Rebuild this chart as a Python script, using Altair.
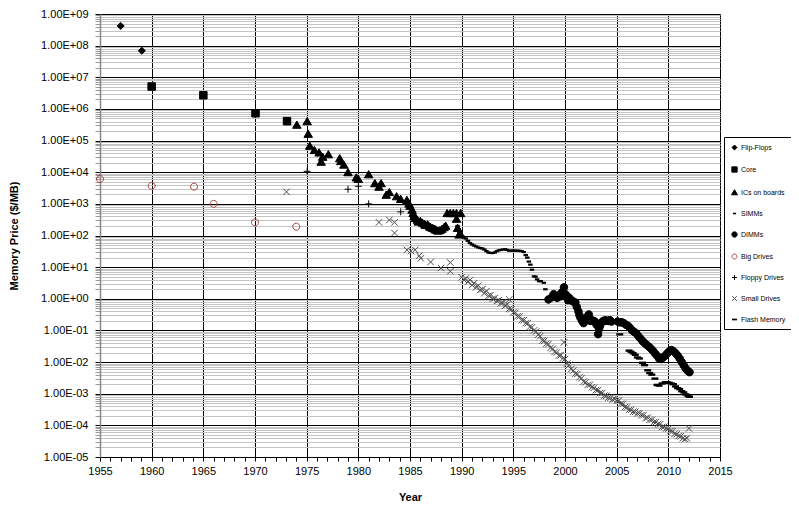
import altair as alt
import pandas as pd

SERIES = ["Flip-Flops", "Core", "ICs on boards", "SIMMs", "DIMMs",
          "Big Drives", "Floppy Drives", "Small Drives", "Flash Memory"]

flip_years = [1957.0, 1959.05]
flip_vals = [4.2e8, 6.9e7]

core_years = [1960.0, 1965.0, 1970.05, 1973.1]
core_vals = [5.1e6, 2.7e6, 7.3e5, 4.1e5]

ics_years = [1974.05, 1975.05, 1975.15, 1975.3, 1975.75, 1976.2, 1976.55, 1976.4, 1977.1,
             1978.2, 1978.3, 1978.6, 1979.0, 1979.8, 1980.0, 1981.0, 1981.6, 1982.2, 1982.0,
             1982.7, 1983.0, 1983.7, 1984.1, 1984.7, 1984.9, 1985.0, 1985.2, 1985.3, 1985.4,
             1985.5, 1985.7, 1985.8, 1986.0, 1986.2, 1986.4, 1986.5, 1986.7, 1986.9, 1987.0,
             1987.2, 1987.4, 1987.5, 1987.7, 1987.9, 1988.1, 1988.3, 1988.45, 1988.6, 1988.9,
             1989.2, 1989.5, 1989.5, 1989.9, 1989.6, 1989.75]
ics_vals = [3.1e5, 4.0e5, 1.6e5, 6.7e4, 4.9e4, 4.1e4, 3.0e4, 2.1e4, 3.6e4,
            2.7e4, 2.2e4, 1.7e4, 9.8e3, 6.7e3, 6.0e3, 8.4e3, 4.4e3, 4.4e3, 3.4e3,
            1.9e3, 2.3e3, 1.7e3, 1.4e3, 1.3e3, 1.0e3, 8.5e2, 6.4e2, 5.0e2, 4.0e2,
            3.5e2, 3.1e2, 2.7e2, 2.8e2, 2.5e2, 2.3e2, 2.1e2, 2.2e2, 1.9e2, 1.8e2,
            1.7e2, 1.6e2, 1.5e2, 1.4e2, 1.45e2, 1.6e2, 1.8e2, 2.0e2, 5.0e2, 5.0e2,
            5.0e2, 5.0e2, 3.3e2, 5.0e2, 1.7e2, 1.05e2]

simm_years = [1989.6, 1989.7, 1989.8, 1989.9, 1990.0, 1990.1, 1990.2, 1990.4, 1990.6, 1990.8,
              1991.0, 1991.2, 1991.4, 1991.6, 1991.8, 1992.0, 1992.2, 1992.4, 1992.6, 1992.8,
              1993.0, 1993.2, 1993.4, 1993.6, 1993.8, 1994.0, 1994.2, 1994.4, 1994.6, 1994.8,
              1995.0, 1995.2, 1995.4, 1995.6, 1995.8, 1996.0, 1996.2, 1996.35, 1996.5, 1996.65,
              1996.8, 1997.0, 1997.15, 1997.3, 1997.5, 1997.65, 1997.95, 1998.1, 1998.3, 1998.6,
              1998.9]
simm_vals = [200, 160, 130, 110, 100, 92, 88, 80, 68, 58,
             52, 48, 45, 42, 40, 39, 36, 32, 29, 28,
             28, 29, 32, 34, 35, 36, 37, 35, 33, 33,
             34, 33, 33, 33, 32, 30, 24, 20, 15, 12,
             8.3, 5.1, 5.0, 4.1, 3.6, 3.6, 3.2, 2.0, 0.95, 1.07,
             1.2]

dimm_years = [1998.4, 1998.7, 1998.9, 1999.1, 1999.25, 1999.4, 1999.55, 1999.7, 1999.9, 2000.05,
              2000.2, 2000.3, 2000.4, 2000.55, 2000.7, 2000.85, 2001.0, 2001.15, 2001.3, 2001.4,
              2001.5, 2001.65, 2001.8, 2001.95, 2002.1, 2002.3, 2002.45, 2002.6, 2002.75, 2002.9,
              2003.05, 2003.2, 2003.3, 2003.4, 2003.55, 2003.7, 2003.9, 2004.05, 2004.2, 2004.35,
              2004.5, 2005.1, 2005.3, 2005.5, 2005.7, 2005.9, 2006.1, 2006.3, 2006.5, 2006.7,
              2006.9, 2007.1, 2007.3, 2007.5, 2007.7, 2007.9, 2008.1, 2008.3, 2008.5, 2008.7,
              2008.9, 2009.1, 2009.3, 2009.5, 2009.7, 2009.9, 2010.1, 2010.3, 2010.5, 2010.7,
              2010.9, 2011.1, 2011.3, 2011.5, 2011.7, 2011.9, 2012.05]
dimm_vals = [0.95, 1.1, 1.4, 1.2, 1.07, 1.3, 1.2, 1.6, 2.3, 1.4,
             1.2, 0.9, 1.07, 0.95, 0.85, 0.8, 0.76, 0.55, 0.40, 0.30,
             0.25, 0.20, 0.17, 0.20, 0.26, 0.32, 0.20, 0.21, 0.20, 0.19,
             0.15, 0.076, 0.11, 0.14, 0.18, 0.20, 0.21, 0.20, 0.20, 0.21,
             0.19, 0.19, 0.18, 0.18, 0.17, 0.15, 0.14, 0.12, 0.10, 0.09,
             0.08, 0.066, 0.056, 0.046, 0.040, 0.035, 0.031, 0.027, 0.023, 0.019,
             0.016, 0.013, 0.0125, 0.014, 0.016, 0.019, 0.022, 0.024, 0.022, 0.019,
             0.016, 0.013, 0.010, 0.0078, 0.0062, 0.0052, 0.0048]

big_years = [1955.0, 1960.0, 1964.1, 1966.0, 1970.0, 1974.0]
big_vals = [6.1e3, 3.7e3, 3.5e3, 1.0e3, 2.6e2, 1.9e2]

floppy_years = [1975.05, 1979.0, 1980.0, 1981.0, 1984.1]
floppy_vals = [1.07e4, 2.9e3, 3.6e3, 1.0e3, 5.6e2]

small_years = [1973.05, 1982.0, 1983.0, 1983.5, 1983.5, 1984.7, 1985.1, 1985.5, 1985.9, 1986.05,
               1987.0, 1988.0, 1988.9, 1988.9,
               1990.0, 1990.2, 1990.4, 1990.6, 1990.8, 1991.0, 1991.2, 1991.4, 1991.6, 1991.8,
               1992.0, 1992.2, 1992.4, 1992.6, 1992.8, 1993.0, 1993.2, 1993.4, 1993.6, 1993.8,
               1994.0, 1994.2, 1994.4, 1994.6, 1994.6, 1994.8, 1995.0, 1995.2, 1995.4, 1995.6,
               1995.8, 1996.0, 1996.2, 1996.4, 1996.6, 1996.8, 1997.0, 1997.2, 1997.4, 1997.6,
               1997.8, 1998.0, 1998.2, 1998.4, 1998.6, 1998.8, 1999.0, 1999.2, 1999.4, 1999.6,
               1999.8, 1999.9, 2000.0, 2000.2, 2000.4, 2000.6, 2000.8, 2001.0, 2001.2, 2001.4,
               2001.6, 2001.8, 2002.0, 2002.2, 2002.4, 2002.6, 2002.8, 2003.0, 2003.2, 2003.4,
               2003.6, 2003.8, 2004.0, 2004.2, 2004.4, 2004.6, 2004.8, 2005.0, 2005.2, 2005.4,
               2005.6, 2005.8, 2006.0, 2006.2, 2006.4, 2006.6, 2006.8, 2007.0, 2007.2, 2007.4,
               2007.6, 2007.8, 2008.0, 2008.2, 2008.4, 2008.6, 2008.8, 2009.0, 2009.2, 2009.4,
               2009.6, 2009.8, 2010.0, 2010.2, 2010.4, 2010.6, 2010.8, 2011.0, 2011.2, 2011.4,
               2011.6, 2011.8, 2012.0]
small_vals = [2.4e3, 2.6e2, 3.1e2, 2.6e2, 1.2e2, 35, 32, 35, 23, 19,
              14.5, 9.4, 14, 7.4,
              4.8, 4.0, 4.4, 3.4, 3.9, 2.7, 3.1, 2.3, 2.6, 1.9,
              2.0, 1.5, 1.75, 1.25, 1.3, 1.0, 1.05, 0.85, 0.9, 0.72,
              0.76, 0.6, 0.66, 0.48, 0.95, 0.47, 0.37, 0.36, 0.28, 0.28,
              0.21, 0.21, 0.17, 0.17, 0.13, 0.125, 0.10, 0.092, 0.073, 0.066,
              0.048, 0.047, 0.038, 0.037, 0.028, 0.026, 0.021, 0.020, 0.016, 0.0165,
              0.013, 0.042, 0.0125, 0.0090, 0.0082, 0.0060, 0.0054, 0.0043, 0.0042, 0.0033,
              0.0031, 0.0024, 0.0023, 0.0019, 0.0019, 0.0016, 0.00155, 0.0013, 0.0013, 0.00105,
              0.00105, 0.00087, 0.00086, 0.00075, 0.00074, 0.00066, 0.00068, 0.00060, 0.00060, 0.00048,
              0.00048, 0.00038, 0.00037, 0.00031, 0.00031, 0.00027, 0.00027, 0.00024, 0.00024, 0.00021,
              0.00021, 0.00017, 0.000175, 0.00015, 0.00015, 0.000127, 0.000127, 0.00011, 0.000108, 0.000089,
              0.00009, 0.00008, 0.000078, 0.000066, 0.000065, 0.000054, 0.000052, 0.000046, 0.000045, 0.000039,
              0.000037, 0.000039, 0.00008]

flash_years = [2005.3, 2006.2, 2006.4, 2006.6, 2006.8, 2007.0, 2007.2, 2007.5, 2007.7, 2008.0,
               2008.2, 2008.4, 2008.7, 2008.9, 2009.1, 2009.4, 2009.7, 2009.9, 2010.1, 2010.3,
               2010.5, 2010.7, 2010.9, 2011.1, 2011.3, 2011.5, 2011.7, 2011.9, 2012.05]
flash_vals = [0.075, 0.023, 0.021, 0.019, 0.017, 0.014, 0.013, 0.0095, 0.0080, 0.0055,
              0.0045, 0.0040, 0.0030, 0.0019, 0.0018, 0.0021, 0.0023, 0.0023, 0.0022, 0.0021,
              0.0020, 0.0017, 0.0015, 0.0014, 0.0012, 0.0011, 0.00095, 0.00085, 0.00080]

# axis tick values
Y_DECADES = list(range(-5, 10))
Y_MINOR_MANTISSAS = [2, 3, 4, 5, 6, 7, 8, 9]
X_YEARS = list(range(1955, 2016))

# marker styles (unit-box SVG paths, all drawn at one mark size)
SHAPES = [
    "M0,-0.7L0.7,0L0,0.7L-0.7,0Z",                                      # diamond
    "M-0.75,-0.75H0.75V0.75H-0.75Z",                                    # square
    "M0,-0.8L0.85,0.65L-0.85,0.65Z",                                    # triangle
    "M-0.45,-0.22H0.45V0.22H-0.45Z",                                    # short dash
    "M-0.75,0A0.75,0.75 0 1,0 0.75,0A0.75,0.75 0 1,0 -0.75,0Z",         # dot
    "M-0.7,0A0.7,0.7 0 1,0 0.7,0A0.7,0.7 0 1,0 -0.7,0Z",                # ring
    "M-0.7,0H0.7M0,-0.7V0.7",                                           # plus
    "M-0.65,-0.65L0.65,0.65M-0.65,0.65L0.65,-0.65",                     # x
    "M-0.7,-0.24H0.7V0.24H-0.7Z",                                       # long dash
]
FILLS = ["#000000", "#000000", "#000000", "#000000", "#000000", "transparent",
         "transparent", "transparent", "#000000"]
STROKES = ["#000000", "#000000", "#000000", "transparent", "#000000", "#a8443f",
           "#000000", "#4d4d4d", "transparent"]

groups = [(flip_years, flip_vals), (core_years, core_vals), (ics_years, ics_vals),
          (simm_years, simm_vals), (dimm_years, dimm_vals), (big_years, big_vals),
          (floppy_years, floppy_vals), (small_years, small_vals), (flash_years, flash_vals)]
rows = []
for name, (ys, vs) in zip(SERIES, groups):
    for yr, v in zip(ys, vs):
        rows.append({"series": name, "year": yr, "price": v})
df = pd.DataFrame(rows)

y_ticks = [m * 10.0 ** e for e in Y_DECADES[:-1] for m in Y_MINOR_MANTISSAS] + [10.0 ** e for e in Y_DECADES]

MAJOR_Y = "abs(log(datum.value)/LN10 - round(log(datum.value)/LN10)) < 0.001"
Y_LABEL = ("(" + MAJOR_Y + ") ? '1.00E' + (round(log(datum.value)/LN10) < 0 ? '-' : '+') + "
           "(abs(round(log(datum.value)/LN10)) < 10 ? '0' : '') + abs(round(log(datum.value)/LN10)) : ''")
MAJOR_X = "datum.value % 5 === 0"

FONT = "Liberation Sans"
PLOT_W, PLOT_H = 620, 443

y_axis = alt.Axis(
    values=y_ticks, labelExpr=Y_LABEL, title="Memory Price ($/MB)",
    grid=True,
    gridColor={"condition": {"test": MAJOR_Y, "value": "#000000"}, "value": "#c4c4c4"},
    gridWidth=1,
    tickColor={"condition": {"test": MAJOR_Y, "value": "#000000"}, "value": "#999999"},
    tickSize=5, tickWidth=1,
    domainColor="#888888", domainWidth=1.5,
    labelFontSize=11, labelPadding=7, labelOverlap=False, labelFlush=False, labelColor="#000000",
    titleFontSize=11, titleFontWeight="bold", titleColor="#000000",
    titleX=-86, titleY=PLOT_H / 2, titleBaseline="middle", titleAlign="center",
)
x_axis = alt.Axis(
    values=X_YEARS, labelExpr="datum.value % 5 === 0 ? '' + datum.value : ''", title="Year",
    grid=True,
    gridColor={"condition": {"test": MAJOR_X, "value": "#000000"}, "value": "transparent"},
    gridWidth=1,
    tickColor="#000000", tickSize=4, tickWidth=1,
    domainColor="#000000", domainWidth=1,
    labelFontSize=11, labelPadding=4, labelOverlap=False, labelFlush=False, labelColor="#000000",
    titleFontSize=11, titleFontWeight="bold", titleColor="#000000",
    titleY=40, titleBaseline="middle",
)

leg = dict(title=None, orient="none", legendX=624, legendY=123,
           strokeColor="#000000", fillColor="#ffffff", padding=6, rowPadding=12,
           labelFontSize=7, labelColor="#000000", symbolSize=50, symbolStrokeWidth=1,
           labelOffset=2)

chart = alt.Chart(df).mark_point(opacity=1, strokeWidth=1, size=100).encode(
    x=alt.X("year:Q", scale=alt.Scale(domain=[1955, 2015], nice=False, zero=False), axis=x_axis),
    y=alt.Y("price:Q", scale=alt.Scale(type="log", domain=[1e-5, 1e9], nice=False), axis=y_axis),
    shape=alt.Shape("series:N", scale=alt.Scale(domain=SERIES, range=SHAPES), legend=alt.Legend(**leg)),
    fill=alt.Fill("series:N", scale=alt.Scale(domain=SERIES, range=FILLS), legend=alt.Legend(**leg)),
    stroke=alt.Stroke("series:N", scale=alt.Scale(domain=SERIES, range=STROKES), legend=alt.Legend(**leg)),
).properties(
    width=PLOT_W, height=PLOT_H,
    autosize=alt.AutoSizeParams(type="none"),
    padding={"left": 92, "top": 6, "right": 71, "bottom": 49},
).configure(font=FONT).configure_view(strokeWidth=0)

chart.save("out.html", embed_options={"renderer": "svg", "actions": False})
